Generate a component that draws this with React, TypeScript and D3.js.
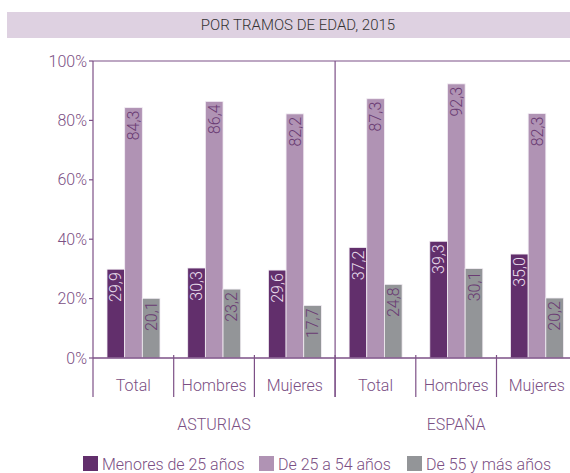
import React from 'react';
import * as d3 from 'd3';

const regions = ['ASTURIAS', 'ESPAÑA'];
const categories = ['Total', 'Hombres', 'Mujeres'];
const seriesNames = ['Menores de 25 años', 'De 25 a 54 años', 'De 55 y más años'];
const menores25 = [29.9, 30.3, 29.6, 37.2, 39.3, 35.0];
const de25a54 = [84.3, 86.4, 82.2, 87.3, 92.3, 82.3];
const de55 = [20.1, 23.2, 17.7, 24.8, 30.1, 20.2];
const yTicks = [0, 20, 40, 60, 80, 100];

const seriesColors = ['#622f6c', '#b093b4', '#939598'];
const labelColors = ['#eadfec', '#6a3b73', '#6a3b73'];
const axisColor = '#7d5087';
const textColor = '#7b4f84';
const font = 'Roboto, "Liberation Sans", Arial, sans-serif';

const App = () => {
  const width = 570;
  const height = 473;
  const left = 93;
  const groupW = 80.7;
  const top = 61;
  const bottom = 358;
  const axisBottom = 397;
  const fs = 16;

  const series = [menores25, de25a54, de55];
  const groups = regions.flatMap(r => categories.map(c => `${r}-${c}`));

  const x0 = d3.scaleBand<string>().domain(groups).range([left, left + groupW * groups.length]).padding(0);
  const x1 = d3.scaleBand<string>().domain(seriesNames).range([14, 14 + 53]).padding(0);
  const y = d3.scaleLinear().domain([0, 100]).range([bottom, top]);
  const fmt = (v: number) => v.toFixed(1).replace('.', ',');

  const regionW = x0.bandwidth() * categories.length;

  return (
    <svg width={width} height={height} style={{ position: 'absolute', left: 0, top: 0, fontFamily: font, fontWeight: 300 }}>
      {/* title band */}
      <rect x={7} y={12} width={width - 7} height={26} fill="#ded1e1" />
      <text x={298} y={25} dy="0.35em" textAnchor="middle" fontSize={15} fill="#333">
        POR TRAMOS DE EDAD, 2015
      </text>

      {/* y ticks */}
      {yTicks.map(t => (
        <g key={t}>
          <line x1={left - 4} x2={left} y1={y(t)} y2={y(t)} stroke={axisColor} strokeWidth={1.2} />
          <text x={left - 6} y={y(t)} dy="0.35em" textAnchor="end" fontSize={fs} fill={textColor}>
            {t}%
          </text>
        </g>
      ))}

      {/* bars */}
      {groups.map((g, gi) => (
        <g key={g} transform={`translate(${x0(g)},0)`}>
          {series.map((vals, si) => {
            const bx = x1(seriesNames[si])!;
            const bw = x1.bandwidth();
            const v = vals[gi];
            return (
              <g key={si}>
                <rect x={bx} y={y(v)} width={bw} height={bottom - y(v)} fill={seriesColors[si]} stroke="#f3eef4" strokeWidth={0.8} />
                <text
                  transform={`translate(${bx + bw / 2},${y(v) + 3}) rotate(-90)`}
                  dy="0.35em"
                  textAnchor="end"
                  fontSize={fs}
                  fill={labelColors[si]}
                >
                  {fmt(v)}
                </text>
              </g>
            );
          })}
        </g>
      ))}

      {/* frame */}
      <line x1={left} x2={width} y1={top} y2={top} stroke={axisColor} strokeWidth={1.2} />
      <line x1={left} x2={left} y1={top} y2={axisBottom} stroke={axisColor} strokeWidth={1.2} />
      <line x1={left} x2={width} y1={bottom} y2={bottom} stroke={axisColor} strokeWidth={1.5} />
      <line x1={left + regionW} x2={left + regionW} y1={top} y2={axisBottom} stroke={axisColor} strokeWidth={1.2} />
      {groups.map((g, gi) => (
        <g key={g}>
          {gi > 0 && (
            <line x1={x0(g)} x2={x0(g)} y1={bottom - 3} y2={axisBottom} stroke={axisColor} strokeWidth={1.2} />
          )}
          <text x={x0(g)! + x0.bandwidth() / 2} y={385} dy="0.35em" textAnchor="middle" fontSize={fs} fill={textColor}>
            {categories[gi % categories.length]}
          </text>
        </g>
      ))}

      {/* region labels */}
      {regions.map((r, ri) => (
        <text key={r} x={left + regionW * ri + regionW / 2} y={424} dy="0.35em" textAnchor="middle" fontSize={fs} fill={textColor}>
          {r}
        </text>
      ))}

      {/* legend */}
      {seriesNames.map((s, i) => {
        const lx = [83, 259, 407][i];
        return (
          <g key={s}>
            <rect x={lx} y={456} width={15} height={15} fill={seriesColors[i]} />
            <text x={lx + 19} y={464} dy="0.35em" fontSize={fs} fill={textColor}>
              {s}
            </text>
          </g>
        );
      })}
    </svg>
  );
};

export default App;
